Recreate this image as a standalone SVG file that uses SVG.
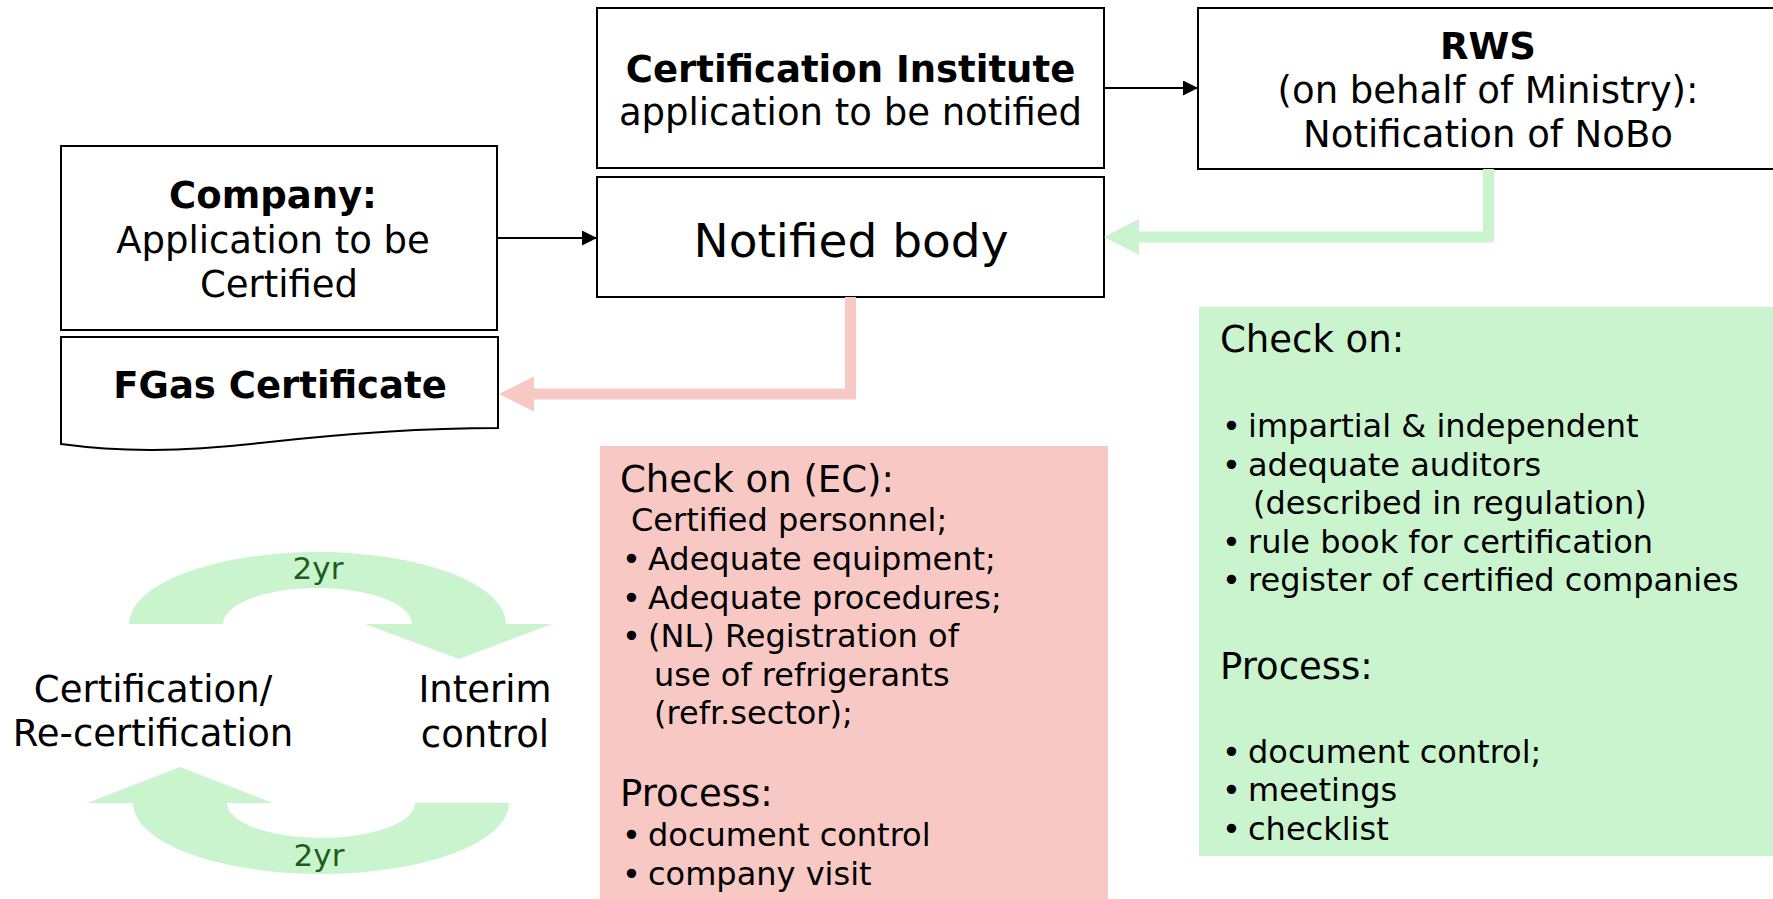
<svg xmlns="http://www.w3.org/2000/svg" width="1773" height="899" viewBox="0 0 1773 899">
<defs>
<style>
text{font-family:"DejaVu Sans","Liberation Sans",sans-serif;fill:#000}
.box{fill:#fff;stroke:#000;stroke-width:2}
.b{font-weight:bold}
.t37{font-size:37px}
.t32{font-size:32px}
.mid{text-anchor:middle}
.yr{font-size:31px;fill:#1d5c1f;text-anchor:middle}
.gfill{fill:#c9f4cd}
.pfill{fill:#f8c8c5}
</style>
<marker id="ah" markerUnits="userSpaceOnUse" markerWidth="15" markerHeight="15" refX="15" refY="7.5" orient="auto">
<path d="M0,0 L15,7.5 L0,15 Z" fill="#000"/>
</marker>
</defs>
<rect width="1773" height="899" fill="#fff"/>

<g id="check-ec">
<rect class="pfill" x="600" y="446" width="508" height="460"/>
<text class="t37" x="620" y="492">Check on (EC):</text>
<text class="t32" x="631" y="531">Certified personnel;</text>
<text class="t32" x="622" y="570">•</text><text class="t32" x="648" y="570">Adequate equipment;</text>
<text class="t32" x="622" y="609">•</text><text class="t32" x="648" y="609">Adequate procedures;</text>
<text class="t32" x="622" y="647">•</text><text class="t32" x="648" y="647">(NL) Registration of</text>
<text class="t32" x="654" y="686">use of refrigerants</text>
<text class="t32" x="654" y="724">(refr.sector);</text>
<text class="t37" x="620" y="806">Process:</text>
<text class="t32" x="622" y="846">•</text><text class="t32" x="648" y="846">document control</text>
<text class="t32" x="622" y="885">•</text><text class="t32" x="648" y="885">company visit</text>
</g>

<g id="check-on">
<rect class="gfill" x="1199" y="307" width="580" height="549"/>
<text class="t37" x="1220" y="352">Check on:</text>
<text class="t32" x="1222" y="437">•</text><text class="t32" x="1248" y="437">impartial &amp; independent</text>
<text class="t32" x="1222" y="476">•</text><text class="t32" x="1248" y="476">adequate auditors</text>
<text class="t32" x="1253" y="514">(described in regulation)</text>
<text class="t32" x="1222" y="553">•</text><text class="t32" x="1248" y="553">rule book for certification</text>
<text class="t32" x="1222" y="591">•</text><text class="t32" x="1248" y="591">register of certified companies</text>
<text class="t37" x="1220" y="679">Process:</text>
<text class="t32" x="1222" y="763">•</text><text class="t32" x="1248" y="763">document control;</text>
<text class="t32" x="1222" y="801">•</text><text class="t32" x="1248" y="801">meetings</text>
<text class="t32" x="1222" y="840">•</text><text class="t32" x="1248" y="840">checklist</text>
</g>

<g id="company">
<rect class="box" x="61" y="146" width="436" height="184"/>
<text class="t37 b mid" x="273" y="208">Company:</text>
<text class="t37 mid" x="273" y="253">Application to be</text>
<text class="t37 mid" x="279" y="297">Certified</text>
</g>

<g id="fgas-certificate">
<path class="box" d="M61,337 H498 V428 C420,428 340,434 260,443 C180,452 120,452 61,444 Z"/>
<text class="t37 b mid" x="280" y="398">FGas Certificate</text>
</g>

<g id="certification-institute">
<rect class="box" x="597" y="8" width="507" height="160"/>
<text class="t37 b mid" x="850.5" y="82">Certification Institute</text>
<text class="t37 mid" x="850.5" y="125">application to be notified</text>
</g>

<g id="notified-body">
<rect class="box" x="597" y="177" width="507" height="120"/>
<text class="mid" style="font-size:47px" x="851" y="257">Notified body</text>
</g>

<g id="rws">
<rect class="box" x="1198" y="8" width="580" height="161"/>
<text class="t37 b mid" x="1488" y="59">RWS</text>
<text class="t37 mid" x="1488" y="103">(on behalf of Ministry):</text>
<text class="t37 mid" x="1488" y="147">Notification of NoBo</text>
</g>

<g id="cycle">
<path class="gfill" d="M129,624 A188.5,72 0 0 1 506,624 L552,624 L459,659 L365,624 L412,624 A94.5,36 0 0 0 223,624 Z"/>
<path class="gfill" d="M509,803 A188,71 0 0 1 133,803 L87,803 L180,767 L273,803 L227,803 A94,35 0 0 0 415,803 Z"/>
<text class="yr" x="318" y="579">2yr</text>
<text class="yr" x="319" y="866">2yr</text>
<text class="t37 mid" x="153" y="702">Certification/</text>
<text class="t37 mid" x="153" y="746">Re-certification</text>
<text class="t37 mid" x="485" y="702">Interim</text>
<text class="t37 mid" x="485" y="747">control</text>
</g>

<g id="connectors">
<line x1="497" y1="238" x2="597" y2="238" stroke="#000" stroke-width="2" marker-end="url(#ah)"/>
<line x1="1104" y1="88" x2="1198" y2="88" stroke="#000" stroke-width="2" marker-end="url(#ah)"/>
<polyline points="1488.5,169 1488.5,237 1138,237" fill="none" stroke="#c9f4cd" stroke-width="11" stroke-linejoin="miter"/>
<polygon class="gfill" points="1104,237 1139,219 1139,255"/>
<polyline points="850.5,297 850.5,394 533,394" fill="none" stroke="#f8c8c5" stroke-width="11" stroke-linejoin="miter"/>
<polygon class="pfill" points="499,394 534,376.5 534,411.5"/>
</g>
</svg>
